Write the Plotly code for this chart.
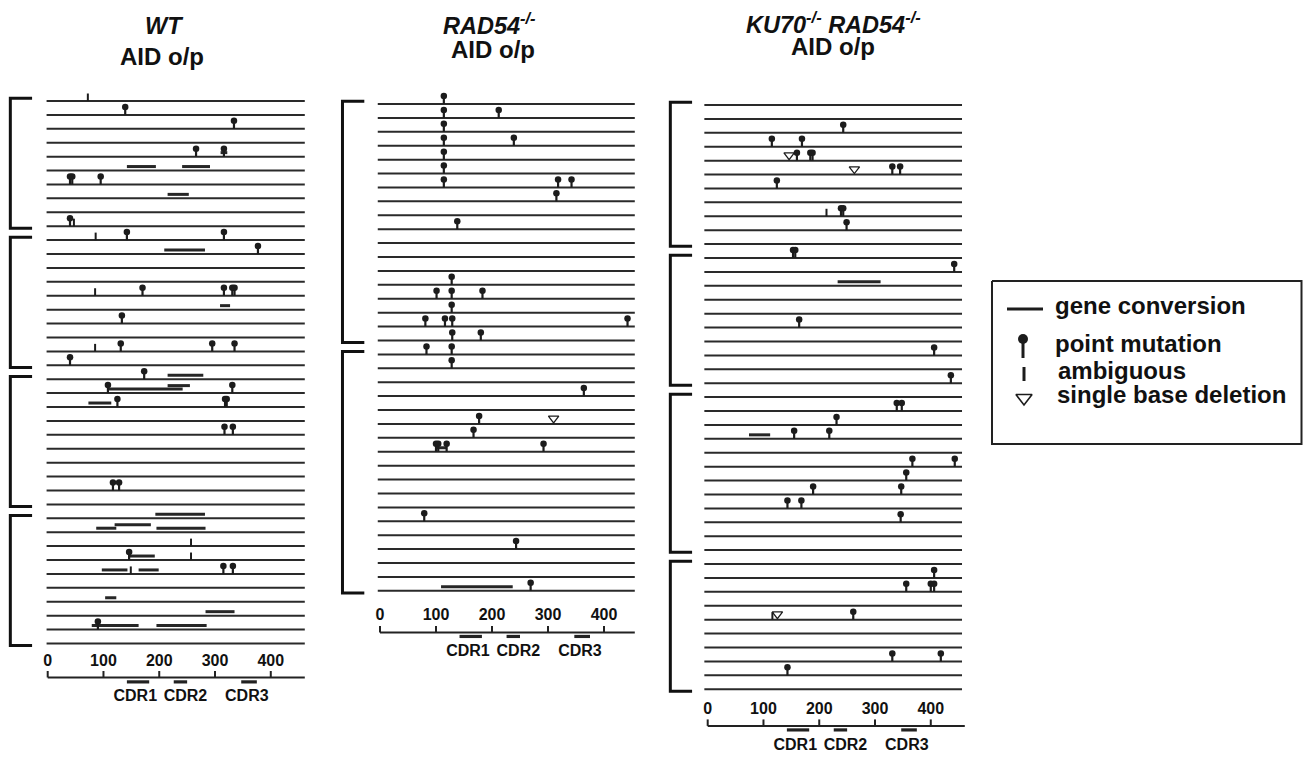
import plotly.graph_objects as go

# ------------------------------------------------------------------ data
TICK_VALUES = [0, 100, 200, 300, 400]
TICK_LABELS = ["0", "100", "200", "300", "400"]
CDR_NAMES = ["CDR1", "CDR2", "CDR3"]
CDR_START = [142, 226, 347]
CDR_END = [182, 250, 375]
CDR_LABEL_POS = [157, 247, 357]

# WT AID o/p
WT_N_ROWS = 40
WT_GROUP_FIRST = [1, 11, 21, 31]
WT_GROUP_LAST = [10, 20, 30, 40]
WT_PM_ROW = [2, 3, 5, 5, 7, 7, 7, 10, 11, 11, 12, 15, 15, 15, 15, 17, 19, 19, 19, 20,
             21, 22, 22, 23, 23, 23, 25, 25, 29, 29, 34, 35, 35, 39]
WT_PM_POS = [139, 334, 266, 316, 40, 44, 95, 40, 142, 316, 377, 170, 316, 331, 335, 133, 131, 295, 335, 40,
             173, 108, 331, 125, 318, 321, 317, 332, 117, 128, 146, 315, 332, 90]
WT_GC_ROW = [5, 6, 6, 8, 12, 16, 21, 22, 22, 23, 31, 32, 32, 32, 34, 35, 35, 37, 38, 39, 39]
WT_GC_START = [310, 142, 241, 215, 209, 309, 215, 108, 215, 73, 193, 87, 120, 195, 146, 97, 163, 103, 283, 79, 195]
WT_GC_END = [322, 194, 291, 253, 282, 327, 279, 242, 255, 114, 282, 123, 185, 283, 192, 143, 199, 123, 335, 163, 285]
WT_AMB_ROW = [1, 10, 11, 15, 19, 33, 34, 35]
WT_AMB_POS = [72, 47, 86, 85, 85, 257, 257, 149]
WT_DEL_ROW = []
WT_DEL_POS = []

# RAD54-/- AID o/p
RAD_N_ROWS = 36
RAD_GROUP_FIRST = [1, 19]
RAD_GROUP_LAST = [18, 36]
RAD_PM_ROW = [1, 2, 2, 3, 4, 4, 5, 6, 7, 7, 7, 8, 10, 14, 15, 15, 15, 16, 17, 17,
              17, 17, 18, 18, 19, 19, 20, 22, 24, 25, 26, 26, 26, 26, 31, 33, 36]
RAD_PM_POS = [114, 114, 212, 114, 114, 239, 114, 114, 114, 318, 342, 315, 138, 128, 101, 128, 183, 128, 81, 116,
              129, 442, 129, 180, 83, 128, 128, 364, 177, 167, 100, 104, 119, 292, 79, 243, 269]
RAD_GC_ROW = [26, 36]
RAD_GC_START = [100, 109]
RAD_GC_END = [119, 237]
RAD_AMB_ROW = []
RAD_AMB_POS = []
RAD_DEL_ROW = [24]
RAD_DEL_POS = [310]

# KU70-/- RAD54-/- AID o/p
KU_N_ROWS = 43
KU_GROUP_FIRST = [1, 12, 22, 34]
KU_GROUP_LAST = [11, 21, 33, 43]
KU_PM_ROW = [3, 4, 4, 5, 5, 5, 6, 6, 7, 9, 9, 10, 12, 12, 13, 17, 19, 21, 23, 23,
             24, 25, 25, 27, 27, 28, 29, 29, 30, 30, 31, 35, 36, 36, 36, 38, 41, 41, 42]
KU_PM_POS = [243, 115, 169, 160, 184, 188, 331, 345, 124, 239, 243, 249, 153, 157, 442, 164, 406, 436, 339, 348,
             231, 155, 218, 367, 443, 356, 189, 347, 143, 168, 346, 406, 356, 400, 406, 261, 331, 418, 143]
KU_GC_ROW = [14, 25]
KU_GC_START = [233, 74]
KU_GC_END = [310, 112]
KU_AMB_ROW = [9, 38]
KU_AMB_POS = [213, 116]
KU_DEL_ROW = [5, 6, 38]
KU_DEL_POS = [146, 263, 125]

LEGEND_LABELS = ["gene conversion", "point mutation", "ambiguous", "single base deletion"]

# ------------------------------------------------------------------ style
FIG_W, FIG_H = 1303, 757
ROW_PX = 13.91
INK = "#1c1c1c"
LINE_INK = "#2a2a2a"
FONT = "Liberation Sans, Arial, Helvetica, sans-serif"

PANELS = [
    dict(title1="<b><i>WT</i></b>", n=WT_N_ROWS, gf=WT_GROUP_FIRST, gl=WT_GROUP_LAST,
         pm=(WT_PM_ROW, WT_PM_POS), gc=(WT_GC_ROW, WT_GC_START, WT_GC_END),
         amb=(WT_AMB_ROW, WT_AMB_POS), dl=(WT_DEL_ROW, WT_DEL_POS),
         dom=(0, 325), zero=47.7, scale=0.5577, top=101, x0=-2, x1=461, ax_end=461,
         gaps=(18.4, 34.0, 38.4, 54.0), tx=(164, 162), ty=(26, 56)),
    dict(title1="<b><i>RAD54<sup>-/-</sup></i></b>", n=RAD_N_ROWS, gf=RAD_GROUP_FIRST, gl=RAD_GROUP_LAST,
         pm=(RAD_PM_ROW, RAD_PM_POS), gc=(RAD_GC_ROW, RAD_GC_START, RAD_GC_END),
         amb=(RAD_AMB_ROW, RAD_AMB_POS), dl=(RAD_DEL_ROW, RAD_DEL_POS),
         dom=(325, 655), zero=380.0, scale=0.56, top=104, x0=-4, x1=455, ax_end=455,
         gaps=(25.6, 41.6, 45.6, 61.6), tx=(489, 493), ty=(24, 49)),
    dict(title1="<b><i>KU70<sup>-/-</sup> RAD54<sup>-/-</sup></i></b>", n=KU_N_ROWS, gf=KU_GROUP_FIRST, gl=KU_GROUP_LAST,
         pm=(KU_PM_ROW, KU_PM_POS), gc=(KU_GC_ROW, KU_GC_START, KU_GC_END),
         amb=(KU_AMB_ROW, KU_AMB_POS), dl=(KU_DEL_ROW, KU_DEL_POS),
         dom=(655, 985), zero=707.7, scale=0.5577, top=105, x0=-6, x1=456, ax_end=461,
         gaps=(20.7, 36.7, 40.7, 57.0), tx=(834, 833), ty=(23, 47)),
]

fig = go.Figure()
axes_layout = {}
annotations = []


def lines(xs, ys, width, xn, yn, color=INK):
    fig.add_trace(go.Scatter(x=xs, y=ys, mode="lines", line=dict(color=color, width=width),
                             xaxis=xn, yaxis=yn, hoverinfo="skip", showlegend=False))


for k, p in enumerate(PANELS, start=1):
    xn = "x" if k == 1 else f"x{k}"
    yn = "y" if k == 1 else f"y{k}"
    P0, P1 = p["dom"]
    z, s = p["zero"], p["scale"]
    top = p["top"]
    axes_layout["xaxis" if k == 1 else f"xaxis{k}"] = dict(
        domain=[P0 / FIG_W, P1 / FIG_W], range=[(P0 - z) / s, (P1 - z) / s],
        visible=False, anchor=yn, fixedrange=True)
    axes_layout["yaxis" if k == 1 else f"yaxis{k}"] = dict(
        domain=[0, 1], range=[1 + (FIG_H - top) / ROW_PX, 1 - top / ROW_PX],
        visible=False, anchor=xn, fixedrange=True)
    R = lambda px: px / ROW_PX  # pixel offset -> row units

    # sequence lines
    xs, ys = [], []
    for i in range(1, p["n"] + 1):
        xs += [p["x0"], p["x1"], None]
        ys += [i, i, None]
    lines(xs, ys, 2, xn, yn, LINE_INK)

    # brackets
    xs, ys = [], []
    for f, l in zip(p["gf"], p["gl"]):
        t, b = f - 0.2, l + 0.15
        xs += [-28, -67, -67, -28, None]
        ys += [t, t, b, b, None]
    lines(xs, ys, 3, xn, yn, "#111111")

    # gene conversion tracts (stacked when overlapping)
    rows, st, en = p["gc"]
    placed = {}
    xs, ys = [], []
    for r_, a, b in sorted(zip(rows, st, en), key=lambda t: (t[0], t[1])):
        lvl = 1
        for (a2, b2, l2) in placed.get(r_, []):
            if a < b2 and b > a2 and l2 == lvl:
                lvl += 1
        placed.setdefault(r_, []).append((a, b, lvl))
        yy = r_ - R(4.0 if lvl == 1 else 7.5)
        xs += [a, b, None]
        ys += [yy, yy, None]
    lines(xs, ys, 3, xn, yn, "#262626")

    # point mutations: stem + head
    prow, ppos = p["pm"]
    xs, ys = [], []
    for r_, q in zip(prow, ppos):
        xs += [q, q, None]
        ys += [r_, r_ - R(8), None]
    lines(xs, ys, 2.2, xn, yn)
    fig.add_trace(go.Scatter(x=ppos, y=[r_ - R(8) for r_ in prow], mode="markers",
                             marker=dict(symbol="circle", size=6.5, color=INK, line=dict(width=0)),
                             xaxis=xn, yaxis=yn, hoverinfo="skip", showlegend=False, cliponaxis=False))

    # ambiguous
    arow, apos = p["amb"]
    xs, ys = [], []
    for r_, q in zip(arow, apos):
        xs += [q, q, None]
        ys += [r_, r_ - R(7.5), None]
    if xs:
        lines(xs, ys, 2, xn, yn)

    # single base deletion
    drow, dpos = p["dl"]
    if drow:
        fig.add_trace(go.Scatter(x=dpos, y=[r_ - R(5.5) for r_ in drow], mode="markers",
                                 marker=dict(symbol="triangle-down-open", size=9, color=INK, line=dict(width=1.3)),
                                 xaxis=xn, yaxis=yn, hoverinfo="skip", showlegend=False, cliponaxis=False))

    # position axis
    g_num, g_ax, g_cdr, g_lab = p["gaps"]
    n = p["n"]
    y_ax = n + R(g_ax)
    xs, ys = [0, p["ax_end"], None], [y_ax, y_ax, None]
    for t in TICK_VALUES:
        xs += [t, t, None]
        ys += [y_ax, y_ax - R(6.5), None]
    lines(xs, ys, 2, xn, yn, "#222222")
    fig.add_trace(go.Scatter(x=TICK_VALUES, y=[n + R(g_num)] * len(TICK_VALUES), mode="text",
                             text=TICK_LABELS, textposition="middle center",
                             textfont=dict(family=FONT, size=16, color="#111111", weight="bold"),
                             xaxis=xn, yaxis=yn, hoverinfo="skip", showlegend=False, cliponaxis=False))
    xs, ys = [], []
    for a, b in zip(CDR_START, CDR_END):
        xs += [a, b, None]
        ys += [n + R(g_cdr), n + R(g_cdr), None]
    lines(xs, ys, 3.2, xn, yn, "#222222")
    fig.add_trace(go.Scatter(x=CDR_LABEL_POS, y=[n + R(g_lab)] * len(CDR_NAMES), mode="text",
                             text=CDR_NAMES, textposition="middle center",
                             textfont=dict(family=FONT, size=16, color="#111111", weight="bold"),
                             xaxis=xn, yaxis=yn, hoverinfo="skip", showlegend=False, cliponaxis=False))

    # titles
    annotations.append(dict(text=p["title1"], x=p["tx"][0] / FIG_W, y=1 - p["ty"][0] / FIG_H,
                            xref="paper", yref="paper", xanchor="center", yanchor="middle",
                            showarrow=False, font=dict(family=FONT, size=23.5, color="#111111")))
    annotations.append(dict(text="<b>AID o/p</b>", x=p["tx"][1] / FIG_W, y=1 - p["ty"][1] / FIG_H,
                            xref="paper", yref="paper", xanchor="center", yanchor="middle",
                            showarrow=False, font=dict(family=FONT, size=24, color="#111111")))

# ------------------------------------------------------------------ legend (pixel axis)
LX0 = 985
axes_layout["xaxis4"] = dict(domain=[LX0 / FIG_W, 1], range=[LX0, FIG_W], visible=False, anchor="y4", fixedrange=True)
axes_layout["yaxis4"] = dict(domain=[0, 1], range=[FIG_H, 0], visible=False, anchor="x4", fixedrange=True)
lines([992, 1301.5, 1301.5, 992, 992], [281, 281, 444, 444, 281], 2, "x4", "y4", "#222222")
lines([1007, 1043], [309, 309], 3, "x4", "y4")
lines([1023, 1023], [340, 358], 3, "x4", "y4")
fig.add_trace(go.Scatter(x=[1023], y=[339], mode="markers", marker=dict(size=10, color=INK),
                         xaxis="x4", yaxis="y4", hoverinfo="skip", showlegend=False, cliponaxis=False))
lines([1024, 1024], [367, 381], 3, "x4", "y4")
fig.add_trace(go.Scatter(x=[1024], y=[398], mode="markers",
                         marker=dict(symbol="triangle-down-open", size=14, color=INK, line=dict(width=1.6)),
                         xaxis="x4", yaxis="y4", hoverinfo="skip", showlegend=False, cliponaxis=False))
for lab, lx, ly in zip(LEGEND_LABELS, [1053, 1053, 1056, 1055], [305, 343, 370, 394]):
    annotations.append(dict(text=f"<b>{lab}</b>", x=lx, y=ly, xref="x4", yref="y4",
                            xanchor="left", yanchor="middle", showarrow=False,
                            font=dict(family=FONT, size=24, color="#111111")))

fig.update_layout(width=FIG_W, height=FIG_H, margin=dict(l=0, r=0, t=0, b=0),
                  paper_bgcolor="white", plot_bgcolor="rgba(0,0,0,0)",
                  showlegend=False, annotations=annotations, **axes_layout)
fig.write_html("out.html", config={"displayModeBar": False},
               post_script="document.body.style.margin='0px';document.body.style.overflow='hidden';")
